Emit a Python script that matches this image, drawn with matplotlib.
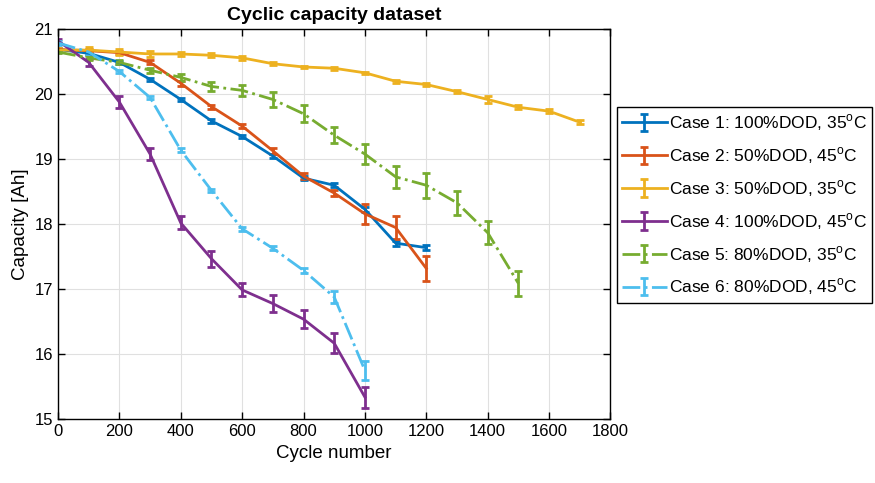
import matplotlib
matplotlib.use("Agg")
import matplotlib.pyplot as plt
import numpy as np

plt.rcParams['font.family'] = ['Liberation Sans', 'DejaVu Sans']
plt.rcParams['mathtext.fontset'] = 'custom'
plt.rcParams['mathtext.rm'] = 'Liberation Sans'

# Cycle counts for each test case
cycles1 = list(range(0, 1300, 100))
cycles2 = list(range(0, 1300, 100))
cycles3 = list(range(0, 1800, 100))
cycles4 = list(range(0, 1100, 100))
cycles5 = list(range(0, 1600, 100))
cycles6 = list(range(0, 1100, 100))

# Mean capacity [Ah] and error bars
case1 = [20.69, 20.63, 20.49, 20.23, 19.92, 19.59, 19.35, 19.05, 18.71, 18.60, 18.23, 17.71, 17.64]
err1 = [0.02, 0.02, 0.02, 0.02, 0.02, 0.03, 0.03, 0.03, 0.03, 0.03, 0.04, 0.04, 0.04]
case2 = [20.69, 20.67, 20.64, 20.49, 20.17, 19.81, 19.51, 19.13, 18.74, 18.48, 18.16, 17.95, 17.32]
err2 = [0.02, 0.02, 0.02, 0.03, 0.04, 0.03, 0.03, 0.05, 0.05, 0.04, 0.15, 0.17, 0.19]
case3 = [20.68, 20.68, 20.65, 20.62, 20.62, 20.60, 20.56, 20.47, 20.42, 20.40, 20.33,
         20.20, 20.15, 20.04, 19.92, 19.80, 19.74, 19.57]
err3 = [0.03, 0.05, 0.04, 0.04, 0.03, 0.03, 0.03, 0.02, 0.02, 0.02, 0.02,
        0.02, 0.03, 0.02, 0.06, 0.03, 0.03, 0.03]
case4 = [20.82, 20.49, 19.88, 19.08, 18.02, 17.47, 16.99, 16.78, 16.54, 16.17, 15.34]
err4 = [0.03, 0.05, 0.09, 0.09, 0.10, 0.12, 0.10, 0.13, 0.14, 0.15, 0.16]
case5 = [20.65, 20.56, 20.49, 20.37, 20.26, 20.12, 20.06, 19.92, 19.70, 19.37, 19.08,
         18.73, 18.60, 18.33, 17.87, 17.09]
err5 = [0.02, 0.03, 0.03, 0.04, 0.05, 0.07, 0.08, 0.12, 0.13, 0.12, 0.15,
        0.17, 0.19, 0.18, 0.18, 0.19]
case6 = [20.79, 20.65, 20.35, 19.95, 19.14, 18.52, 17.93, 17.63, 17.29, 16.88, 15.75]
err6 = [0.03, 0.03, 0.03, 0.03, 0.03, 0.03, 0.03, 0.03, 0.04, 0.09, 0.14]

deg = r'$^\mathregular{o}$C'
labels = [
    'Case 1: 100%DOD, 35' + deg,
    'Case 2: 50%DOD, 45' + deg,
    'Case 3: 50%DOD, 35' + deg,
    'Case 4: 100%DOD, 45' + deg,
    'Case 5: 80%DOD, 35' + deg,
    'Case 6: 80%DOD, 45' + deg,
]
colors = ['#0072BD', '#D95319', '#EDB120', '#7E2F8E', '#77AC30', '#4DBEEE']
styles = ['-', '-', '-', '-', '-.', '-.']

series = [(cycles1, case1, err1), (cycles2, case2, err2), (cycles3, case3, err3),
          (cycles4, case4, err4), (cycles5, case5, err5), (cycles6, case6, err6)]

fig = plt.figure(figsize=(8.75, 4.83), dpi=100)
ax = fig.add_axes([0.0663, 0.1319, 0.6314, 0.8075])

for (x, y, e), lab, c, ls in zip(series, labels, colors, styles):
    ax.errorbar(x, y, yerr=e, color=c, linestyle=ls, linewidth=2,
                elinewidth=2, capsize=3, capthick=2, label=lab)

ax.set_xlim(0, 1800)
ax.set_ylim(15, 21)
ax.set_xticks(np.arange(0, 1801, 200))
ax.set_yticks(np.arange(15, 21.1, 1))
ax.grid(True, color='#e0e0e0', linewidth=0.8)
ax.set_axisbelow(True)
ax.tick_params(direction='in', top=True, right=True, labelsize=12, length=5, width=1)
for s in ax.spines.values():
    s.set_linewidth(1)

ax.set_title('Cyclic capacity dataset', fontsize=14, fontweight='bold', pad=7)
ax.set_xlabel('Cycle number', fontsize=13.5)
ax.set_ylabel('Capacity [Ah]', fontsize=13.5)

leg = ax.legend(loc='upper left', bbox_to_anchor=(1.011, 0.80), fontsize=12.5,
                frameon=True, fancybox=False, edgecolor='black', framealpha=1,
                handlelength=2.6, handletextpad=0.1, labelspacing=0.7,
                borderpad=0.3, borderaxespad=0)
leg.get_frame().set_linewidth(1)

fig.savefig('out.png', dpi=100)
